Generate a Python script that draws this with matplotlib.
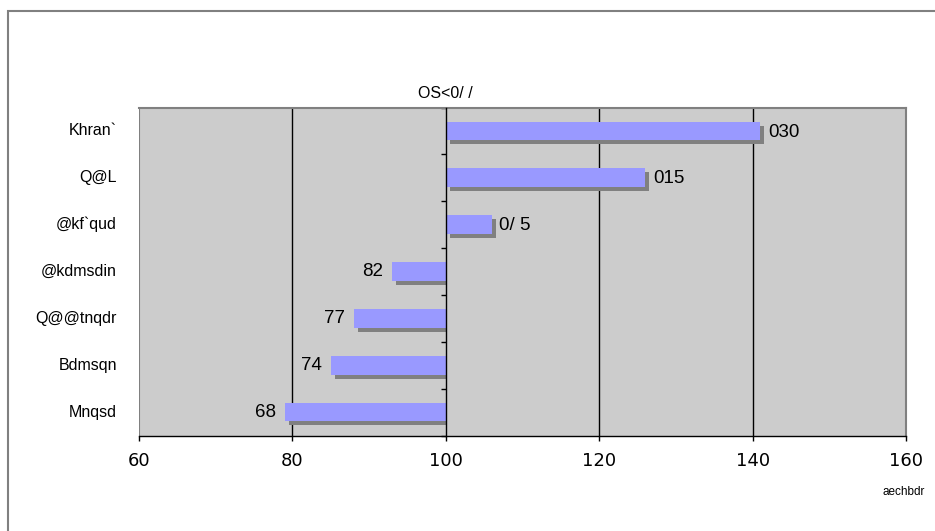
import matplotlib
matplotlib.use("Agg")
import matplotlib.pyplot as plt
from matplotlib import font_manager
from matplotlib.patches import Rectangle
from matplotlib.transforms import blended_transform_factory

# Regions (top to bottom), their index values and the value labels printed next to bars
regions = ["Khran`", "Q@L", "@kf`qud", "@kdmsdin", "Q@@tnqdr", "Bdmsqn", "Mnqsd"]
values = [141, 126, 106, 93, 88, 85, 79]
value_labels = ["030", "015", "0/ 5", "82", "77", "74", "68"]
x_ticks = [60, 80, 100, 120, 140, 160]
title = "OS<0/ /"
footer = "aechbdr"

BASE = 100
X_MIN, X_MAX = 60, 160

available = {f.name for f in font_manager.fontManager.ttflist}
narrow = "Liberation Sans Narrow" if "Liberation Sans Narrow" in available else "Liberation Sans"
narrow_size = 12.5 if narrow == "Liberation Sans Narrow" else 11.5
label_font = "Liberation Sans"

W, H, DPI = 935, 531, 100
fig = plt.figure(figsize=(W / DPI, H / DPI), dpi=DPI)
fig.patch.set_facecolor("white")

# Outer chart frame (top and left edges visible)
fig.patches.append(Rectangle((8 / W, -0.05), 1.1, 1 - 11 / H + 0.05,
                             transform=fig.transFigure, fill=False,
                             edgecolor="#808080", linewidth=1.5, zorder=0))

left, right, top, bottom = 139, 906, 107.5, 435.5
ax = fig.add_axes([left / W, 1 - bottom / H, (right - left) / W, (bottom - top) / H])
ax.set_facecolor("#cccccc")

ax.set_xlim(X_MIN, X_MAX)
n = len(regions)
ax.set_ylim(n - 0.5, -0.5)
ypos = list(range(n))

# pixel -> data unit conversions for the drop shadow
px_x = (X_MAX - X_MIN) / (right - left)
px_y = n / (bottom - top)
sdx, sdy = 4 * px_x, 4 * px_y
bar_h = 0.40

# vertical gridlines
for xv in x_ticks[1:-1]:
    if xv != BASE:
        ax.axvline(xv, color="black", linewidth=1.0, zorder=1)

for y, v in zip(ypos, values):
    if v >= BASE:
        s_left, s_width = BASE + sdx, v - BASE
    else:
        s_left, s_width = v + sdx, BASE - (v + sdx)
    ax.barh(y + sdy, s_width, left=s_left, height=bar_h, color="#808080",
            linewidth=0, zorder=2)
    ax.barh(y, v - BASE, left=BASE, height=bar_h, color="#9999ff",
            linewidth=0, zorder=3)

for y, v, lab in zip(ypos, values, value_labels):
    if v >= BASE:
        ax.annotate(lab, xy=(v, y), xytext=(5.5, -0.8), textcoords="offset points",
                    ha="left", va="center", fontsize=13.5, family=label_font,
                    color="black", zorder=5)
    else:
        ax.annotate(lab, xy=(v, y), xytext=(-6.5, -0.3), textcoords="offset points",
                    ha="right", va="center", fontsize=13.5, family=label_font,
                    color="black", zorder=5)

# spines: gray plot-area border, category axis at the base value, black value axis
for side in ("top", "right"):
    ax.spines[side].set_color("#808080")
    ax.spines[side].set_linewidth(1.5)
ax.spines["left"].set_position(("data", BASE))
ax.spines["left"].set_color("black")
ax.spines["left"].set_linewidth(1.0)
ax.spines["left"].set_zorder(4)
ax.spines["bottom"].set_color("black")
ax.spines["bottom"].set_linewidth(1.0)
ax.axvline(X_MIN, color="#808080", linewidth=1.5, zorder=1)

ax.set_yticks([i + 0.5 for i in range(-1, n)])
ax.set_yticklabels([])
ax.tick_params(axis="y", direction="out", length=3.6, width=1.0, color="black")

ax.set_xticks(x_ticks)
ax.set_xticklabels([str(t) for t in x_ticks], family="DejaVu Sans", fontsize=13)
ax.tick_params(axis="x", direction="out", length=3.6, width=1.0, color="black", pad=8.5)

# category labels on the left of the plot area
trans = blended_transform_factory(ax.transAxes, ax.transData)
for y, name in zip(ypos, regions):
    ax.text(-22 / (right - left), y, name, transform=trans, ha="right", va="center",
            fontsize=narrow_size, family=narrow, color="black")

ax.annotate(title, xy=(BASE, 1), xycoords=("data", "axes fraction"),
            xytext=(0, 10.3), textcoords="offset points", ha="center", va="center",
            fontsize=narrow_size, family=narrow, color="black")

fig.text(925 / W, 1 - 492 / H, footer, ha="right", va="center",
         fontsize=8.5, family=narrow, color="black")

fig.savefig("out.png", dpi=DPI)
